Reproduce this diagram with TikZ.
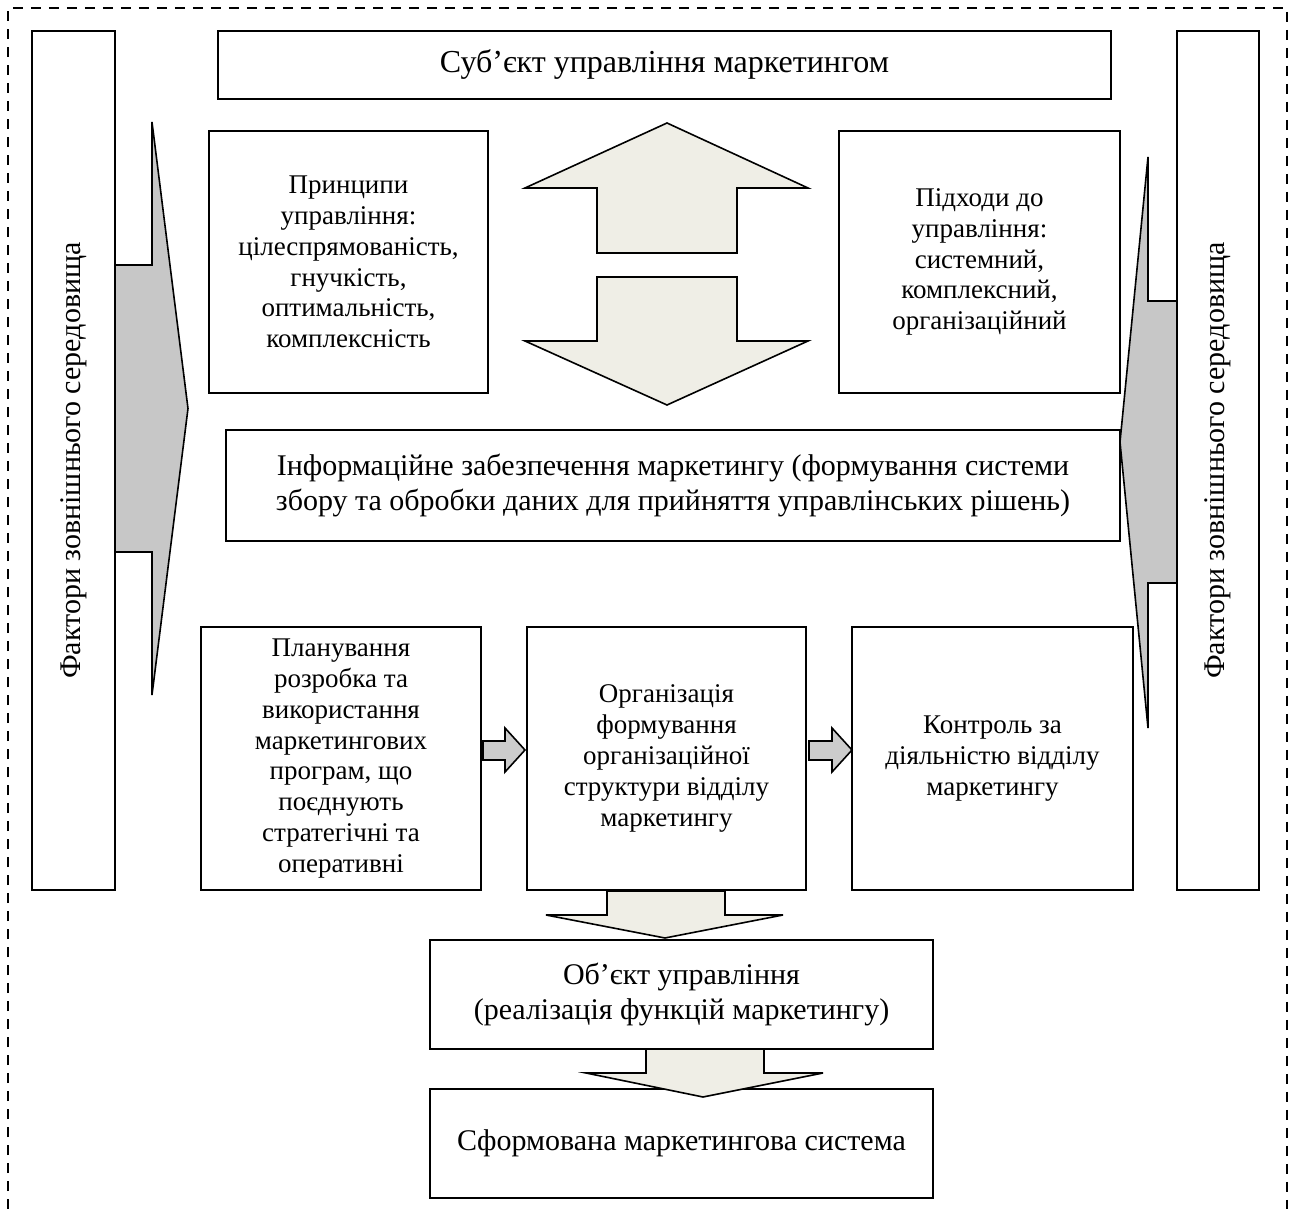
\documentclass[tikz,border=0pt]{standalone}
\usepackage{fontspec}
\setmainfont{Liberation Serif}

\definecolor{lightcream}{HTML}{EFEEE6}

\tikzset{
  box/.style={draw, line width=0.8pt, align=center, inner sep=2pt,
    font=\fontsize{13.5}{15.4}\selectfont},
  bigtext/.style={font=\fontsize{15}{17.6}\selectfont},
  sidearrow/.style={draw, line width=0.8pt, fill=black!22, line join=miter},
  midarrow/.style={draw, line width=0.8pt, fill=lightcream},
  steparrow/.style={draw, line width=0.8pt, fill=black!20},
  outerframe/.style={line width=0.9pt, dash pattern=on 5pt off 4pt}
}

\begin{document}
\begin{tikzpicture}[x=0.5pt, y=-0.5pt]
    \useasboundingbox (0,0) rectangle (1298,1209);
    \draw[outerframe] (8,1209) -- (8,8) -- (1287,8) -- (1287,1209);

    % boxes
    \node[box, bigtext, rotate=90, minimum width=429.5pt, minimum height=41.5pt] (extl) at (73.5,460.5) {Фактори зовнішнього середовища};
    \node[box, bigtext, rotate=90, minimum width=429.5pt, minimum height=41pt] (extr) at (1218,460.5) {Фактори зовнішнього середовища};
    \node[box, font=\fontsize{16}{18}\selectfont, minimum width=446.5pt, minimum height=34pt] (subj) at (664.5,65) {Суб’єкт управління маркетингом};
    \node[box, minimum width=139.5pt, minimum height=131pt] (princ) at (348.5,262) {Принципи\\ управління:\\ цілеспрямованість,\\ гнучкість,\\ оптимальність,\\ комплексність};
    \node[box, minimum width=140.5pt, minimum height=131pt] (appr) at (979.5,262) {Підходи до\\ управління:\\ системний,\\ комплексний,\\ організаційний};
    \node[box, bigtext, minimum width=447pt, minimum height=55.5pt] (info) at (673,485.5) {Інформаційне забезпечення маркетингу (формування системи\\ збору та обробки даних для прийняття управлінських рішень)};
    \node[box, minimum width=140pt, minimum height=131.5pt] (plan) at (341,758.5) {Планування\\ розробка та\\ використання\\ маркетингових\\ програм, що\\ поєднують\\ стратегічні та\\ оперативні};
    \node[box, minimum width=139.5pt, minimum height=131.5pt] (org) at (666.5,758.5) {Організація\\ формування\\ організаційної\\ структури відділу\\ маркетингу};
    \node[box, minimum width=140.5pt, minimum height=131.5pt] (ctrl) at (992.5,758.5) {Контроль за\\ діяльністю відділу\\ маркетингу};
    \node[box, bigtext, minimum width=251.5pt, minimum height=54.5pt] (obj) at (681.5,994.5) {Об’єкт управління\\ (реалізація функцій маркетингу)};
    \node[box, bigtext, minimum width=251.5pt, minimum height=54.5pt] (final) at (681.5,1143.5) {Сформована маркетингова система};

    % block arrows
    \draw[sidearrow] (115,265) -- (152,265) -- (152,122) -- (188,408.5) -- (152,695) -- (152,552) -- (115,552) -- cycle;
    \draw[sidearrow] (1177,301) -- (1148,301) -- (1148,157) -- (1120,442) -- (1148,728) -- (1148,583) -- (1177,583) -- cycle;
    \draw[midarrow] (597,253) -- (597,188) -- (525,188) -- (667,123) -- (808,188) -- (737,188) -- (737,253) -- cycle;
    \draw[midarrow] (597,277) -- (597,341) -- (525,341) -- (667,405) -- (808,341) -- (737,341) -- (737,277) -- cycle;
    \draw[steparrow] (483,741) -- (505,741) -- (505,728) -- (525,750) -- (505,772) -- (505,760) -- (483,760) -- cycle;
    \draw[steparrow] (809,741) -- (832,741) -- (832,728) -- (852,750) -- (832,772) -- (832,760) -- (809,760) -- cycle;
    \draw[midarrow] (607,891) -- (607,915) -- (546,915) -- (665,938) -- (783,915) -- (725,915) -- (725,891) -- cycle;
    \draw[midarrow] (646,1049) -- (646,1073) -- (586,1073) -- (703,1097) -- (823,1073) -- (764,1073) -- (764,1049) -- cycle;
\end{tikzpicture}
\end{document}
